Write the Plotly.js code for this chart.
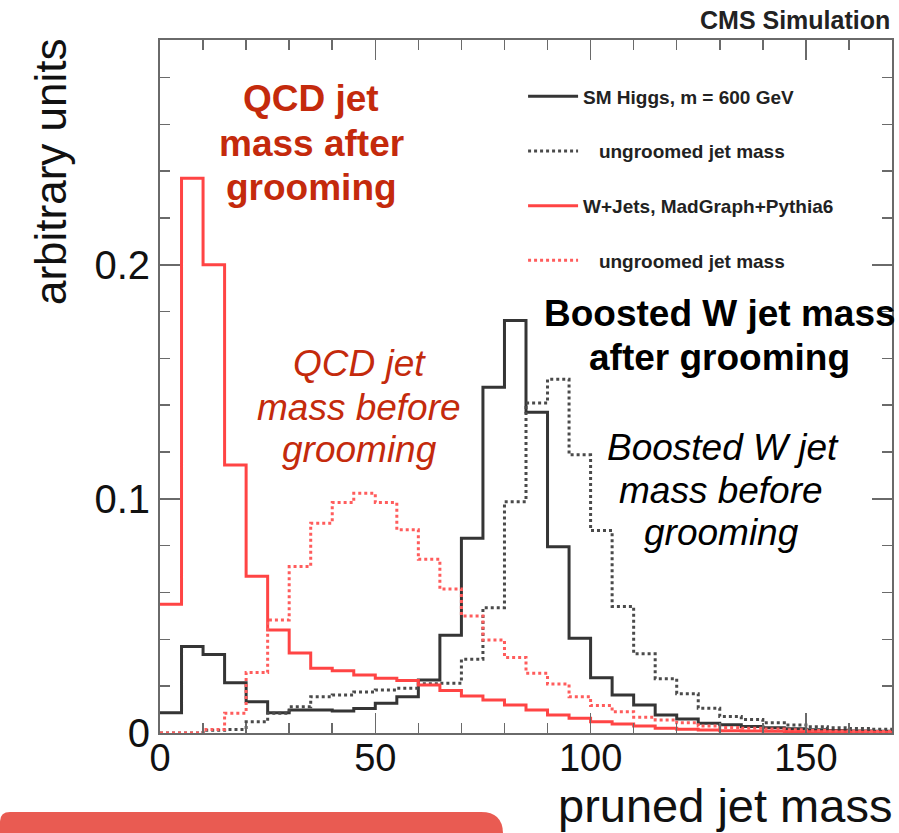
<!DOCTYPE html>
<html>
<head>
<meta charset="utf-8">
<script src="https://cdn.plot.ly/plotly-3.0.1.min.js"></script>
<style>html,body{margin:0;padding:0;background:#fff;}#chart{width:899px;height:833px;}</style>
</head>
<body>
<div id="chart"></div>
<script>
// Bin lower edges (GeV), bin width 5 GeV; last upper edge 170
var binLowEdges = [0,5,10,15,20,25,30,35,40,45,50,55,60,65,70,75,80,85,90,95,100,105,110,115,120,125,130,135,140,145,150,155,160,165];
var lastUpperEdge = 170;

// SM Higgs, m = 600 GeV — pruned (groomed) jet mass
var higgsGroomed = [0.0087,0.0369,0.0335,0.0215,0.0134,0.0087,0.0098,0.0098,0.0094,0.0105,0.0127,0.0155,0.0226,0.0417,0.0832,0.1477,0.1762,0.1370,0.0796,0.0405,0.0236,0.0162,0.0120,0.0077,0.0060,0.0042,0.0035,0.0028,0.0022,0.0018,0.0014,0.0011,0.0009,0.0007];
// SM Higgs — ungroomed jet mass
var higgsUngroomed = [0,0,0.0012,0.0015,0.0048,0.0084,0.0112,0.0155,0.0162,0.0175,0.0184,0.0191,0.0210,0.0212,0.0315,0.0535,0.0988,0.1409,0.1511,0.1188,0.0865,0.0540,0.0338,0.0232,0.0168,0.0106,0.0070,0.0058,0.0044,0.0034,0.0027,0.0022,0.0019,0.0016];
// W+Jets, MadGraph+Pythia6 — pruned (groomed) jet mass
var wjetsGroomed = [0.055,0.237,0.200,0.1145,0.067,0.044,0.0342,0.0277,0.0266,0.0248,0.0234,0.0224,0.0205,0.0181,0.0158,0.0141,0.0120,0.0098,0.0077,0.0063,0.0048,0.0038,0.0030,0.0020,0.0016,0.0013,0.0010,0.0009,0.0007,0.0006,0.0005,0.0004,0.0003,0.0003];
// W+Jets — ungroomed jet mass
var wjetsUngroomed = [0,0,0.0015,0.0084,0.0258,0.0483,0.0711,0.0896,0.0984,0.1024,0.0984,0.0868,0.0742,0.0615,0.0500,0.0397,0.0323,0.0255,0.0209,0.0155,0.0117,0.0091,0.0067,0.0056,0.0044,0.0030,0.0024,0.0020,0.0017,0.0014,0.0011,0.0009,0.0007,0.0006];

var seriesNames = ['SM Higgs, m = 600 GeV', '\u00a0\u00a0\u00a0ungroomed jet mass', 'W+Jets, MadGraph+Pythia6', '\u00a0\u00a0\u00a0ungroomed jet mass'];
var yTickVals = [0, 0.1, 0.2];
var xTickVals = [0, 50, 100, 150];

function stepX() { return binLowEdges.concat([lastUpperEdge]); }
function stepY(v) { return v.concat([v[v.length - 1]]); }

function mk(vals, name, color, dash, group) {
  return {
    type: 'scatter', mode: 'lines',
    x: stepX(), y: stepY(vals),
    name: name, legendgroup: group,
    line: {shape: 'hv', color: color, width: 3, dash: dash},
    hoverinfo: 'x+y'
  };
}

var traces = [
  mk(higgsGroomed, seriesNames[0], '#353535', 'solid', 'g1'),
  mk(higgsUngroomed, seriesNames[1], '#4a4a4a', 'dot', 'g2'),
  mk(wjetsGroomed, seriesNames[2], '#ff4444', 'solid', 'g3'),
  mk(wjetsUngroomed, seriesNames[3], '#ff5c5c', 'dot', 'g4')
];

var sans = '"Liberation Sans", Arial, Helvetica, sans-serif';

var axisCommon = {
  showgrid: false, zeroline: false,
  showline: true, linecolor: '#6a6a6a', linewidth: 2, mirror: 'ticks',
  ticks: 'inside', ticklen: 20, tickwidth: 1.5, tickcolor: '#6a6a6a'
};

function note(text, px, py, size, color, opts) {
  var a = {text: text, xref: 'paper', yref: 'paper',
    x: (px - 160) / 732, y: (733 - py) / 693,
    xanchor: 'center', yanchor: 'middle', showarrow: false,
    font: {family: sans, size: size, color: color}};
  return Object.assign(a, opts || {});
}

var red = '#c42a0c';
var annotations = [
  note('<b>CMS Simulation</b>', 892, 20, 25, '#222', {xanchor: 'right'}),
  note('arbitrary units', 50, 172, 44, '#111', {textangle: -90}),
  note('pruned jet mass', 894, 805, 47, '#111', {xanchor: 'right'}),
  note('<b>QCD jet</b>', 311, 98, 37, red),
  note('<b>mass after</b>', 311, 143, 37, red),
  note('<b>grooming</b>', 311, 187, 37, red),
  note('<i>QCD jet</i>', 359, 363, 37, red),
  note('<i>mass before</i>', 359, 407, 37, red),
  note('<i>grooming</i>', 359, 449, 37, red),
  note('<b>Boosted W jet mass</b>', 720, 313, 37, '#000'),
  note('<b>after grooming</b>', 719, 357, 37, '#000'),
  note('<i>Boosted W jet</i>', 723, 447, 37, '#000'),
  note('<i>mass before</i>', 721, 490, 37, '#000'),
  note('<i>grooming</i>', 721, 532, 37, '#000')
];

var layout = {
  width: 899, height: 833,
  margin: {l: 160, r: 7, t: 40, b: 100},
  paper_bgcolor: '#ffffff', plot_bgcolor: '#ffffff',
  showlegend: true,
  legend: {
    x: 0.496, y: 0.946, xanchor: 'left', yanchor: 'top',
    bgcolor: 'rgba(0,0,0,0)', borderwidth: 0,
    font: {family: sans, size: 19, color: '#222', weight: 'bold'},
    tracegroupgap: 27, itemwidth: 50, traceorder: 'grouped'
  },
  xaxis: Object.assign({}, axisCommon, {
    range: [0, lastUpperEdge],
    tickvals: xTickVals,
    tickfont: {family: sans, size: 38, color: '#111'},
    ticklabelstandoff: -10,
    minor: {dtick: 10, ticklen: 10, tickwidth: 1.5, tickcolor: '#6a6a6a', ticks: 'inside'}
  }),
  yaxis: Object.assign({}, axisCommon, {
    range: [0, 0.296],
    tickvals: yTickVals,
    tickfont: {family: sans, size: 40, color: '#111'},
    minor: {dtick: 0.02, ticklen: 10, tickwidth: 1.5, tickcolor: '#6a6a6a', ticks: 'inside'}
  }),
  annotations: annotations,
  shapes: [
    {type: 'path', xref: 'paper', yref: 'paper', layer: 'above',
     path: 'M -0.2186,-0.17 L -0.2186,-0.1284 Q -0.2186,-0.114 -0.2049,-0.114 L 0.4386,-0.114 Q 0.4686,-0.114 0.4686,-0.1457 L 0.4686,-0.17 Z',
     fillcolor: '#e95b52', line: {width: 0}}
  ]
};

Plotly.newPlot('chart', traces, layout, {displayModeBar: false, staticPlot: true});
</script>
</body>
</html>
